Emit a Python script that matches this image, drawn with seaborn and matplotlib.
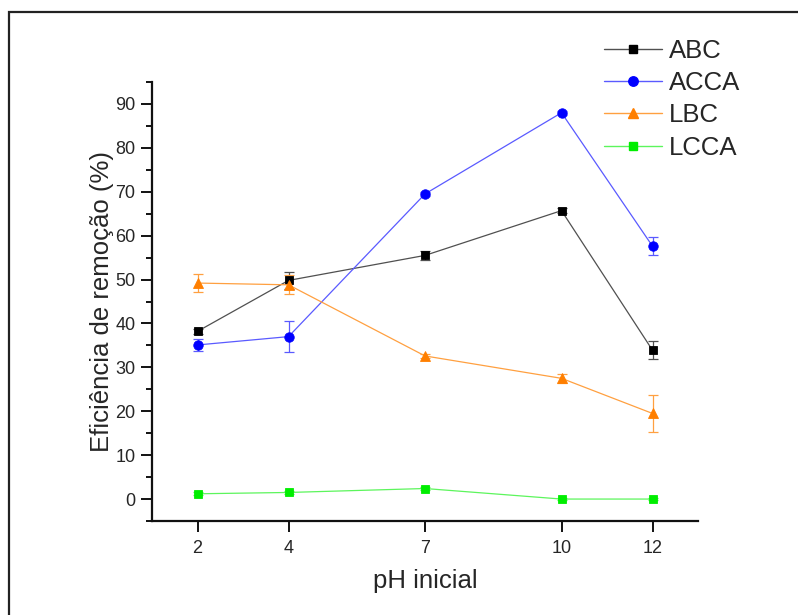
import matplotlib
matplotlib.use("Agg")
import matplotlib.pyplot as plt
from matplotlib.patches import Rectangle
from matplotlib.ticker import MultipleLocator
import numpy as np
import pandas as pd
import seaborn as sns

# Initial pH values tested
ph = [2, 4, 7, 10, 12]

# Removal efficiency (%) per adsorbent
abc = [38.2, 49.8, 55.5, 65.7, 33.9]
acca = [35.1, 37.0, 69.5, 88.0, 57.6]
lbc = [49.2, 48.8, 32.6, 27.5, 19.5]
lcca = [1.2, 1.5, 2.4, 0.0, 0.0]

# Standard deviations
abc_err = [0.6, 2.0, 1.0, 0.5, 2.1]
acca_err = [1.4, 3.6, 0.5, 0.5, 2.1]
lbc_err = [2.0, 2.2, 0.5, 1.0, 4.3]
lcca_err = [0.3, 0.3, 0.4, 0.2, 0.2]

labels = ["ABC", "ACCA", "LBC", "LCCA"]

sns.set_theme(style="ticks")
plt.rcParams["font.family"] = ["Liberation Sans", "DejaVu Sans"]

fig = plt.figure(figsize=(7.98, 6.15), dpi=100)
ax = fig.add_axes([152 / 798, 1 - 521 / 615, (698 - 152) / 798, (521 - 82) / 615])

series = [
    (abc, abc_err, "#000000", "#505050", "s", 6.2),
    (acca, acca_err, "#0000ff", "#5a5aff", "o", 6.8),
    (lbc, lbc_err, "#ff7f00", "#ffa040", "^", 7.5),
    (lcca, lcca_err, "#00ee00", "#5cf55c", "s", 6.2),
]

handles = []
for (vals, err, mcol, lcol, mk, ms), lab in zip(series, labels):
    ax.errorbar(ph, vals, yerr=err, fmt="none", ecolor=lcol, elinewidth=0.9,
                capsize=3.5, capthick=0.9, zorder=2)
    df = pd.DataFrame({"pH": ph, "eff": vals})
    sns.lineplot(data=df, x="pH", y="eff", ax=ax, color=lcol, linewidth=0.9,
                 marker=mk, markersize=ms, markerfacecolor=mcol,
                 markeredgecolor=mcol, markeredgewidth=0.6, zorder=3)
    h, = ax.plot([], [], color=lcol, linewidth=1.0, marker=mk, markersize=ms,
                 markerfacecolor=mcol, markeredgecolor=mcol)
    handles.append(h)

ax.set_xlim(1, 13)
ax.set_ylim(-5, 95)
ax.set_xticks(ph)
ax.set_xticklabels([str(v) for v in ph])
ax.yaxis.set_major_locator(MultipleLocator(10))
ax.yaxis.set_minor_locator(MultipleLocator(5))
ax.set_yticks(np.arange(0, 91, 10))

for side in ["top", "right"]:
    ax.spines[side].set_visible(False)
for side in ["left", "bottom"]:
    ax.spines[side].set_linewidth(1.6)
    ax.spines[side].set_color("#111111")

ax.tick_params(axis="both", which="major", direction="out", length=8,
               width=1.4, color="#111111", labelsize=13, pad=4)
ax.tick_params(axis="x", which="major", pad=6)
ax.tick_params(axis="y", which="minor", direction="out", length=4,
               width=1.4, color="#111111")
ax.tick_params(axis="x", which="minor", length=0)

ax.set_xlabel("pH inicial", fontsize=18.5, labelpad=8)
ax.set_ylabel("Eficiência de remoção (%)", fontsize=18.5, labelpad=1)

leg = fig.legend(handles, labels, loc="upper left",
                 bbox_to_anchor=(604 / 798, 1 - 39 / 615),
                 frameon=False, fontsize=18.5, handlelength=2.25,
                 handletextpad=0.27, labelspacing=0.32, borderpad=0,
                 borderaxespad=0)

# Outer frame around the figure
fig.patches.append(Rectangle((9 / 798, -0.05), 1.1, 1 - 12 / 615 + 0.05,
                             transform=fig.transFigure, fill=False,
                             edgecolor="#222222", linewidth=1.6))

fig.savefig("out.png", dpi=100)
